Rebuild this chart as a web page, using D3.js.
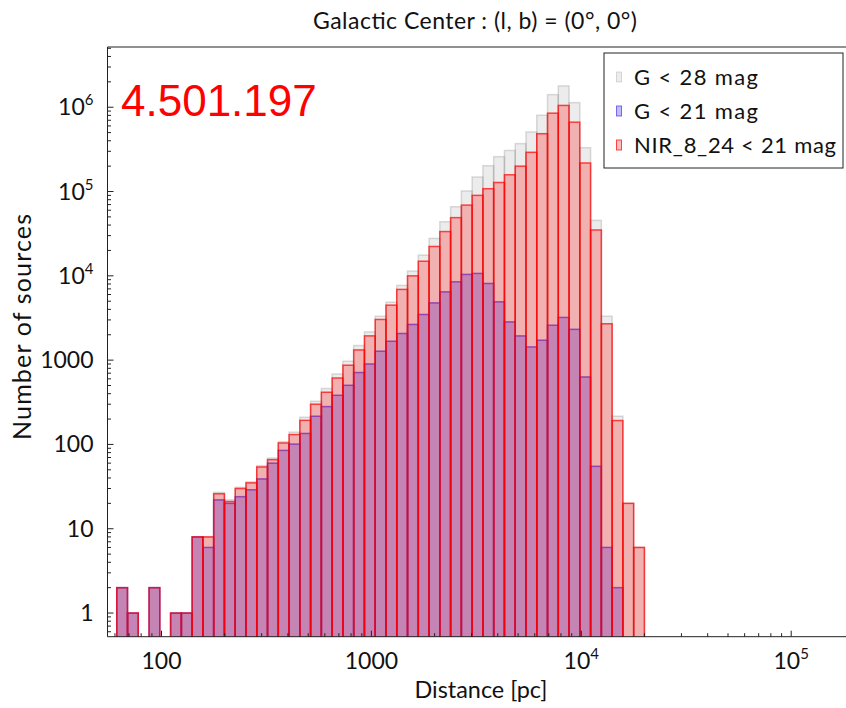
<!DOCTYPE html>
<html>
<head>
<meta charset="utf-8">
<script src="https://cdn.jsdelivr.net/npm/d3@7"></script>
<style>
  html, body { margin: 0; padding: 0; background: #fff; }
  svg { display: block; }
  text { font-family: Lato, "Open Sans", sans-serif; fill: #111; }
</style>
</head>
<body>
<svg id="chart" width="846" height="708"></svg>
<script>
// Histogram binning: logarithmic bins in distance (pc)
const distMinPc = 61.2;
const distMaxPc = 19990;
const nBins = 49;

// Number of sources per distance bin
const countsG28 = [2, 1, 0, 2, 0, 1, 1, 8, 8, 27, 22, 31, 36, 56, 69,
  108, 140, 210, 325, 461, 685, 970, 1490, 2165, 3320, 4870,
  7700, 11400, 17600, 27800, 43800, 66000, 101500, 148700, 202500, 259000,
  307000, 370000, 509000, 803000, 1411000, 1791000, 1133000, 331000, 45500,
  3320, 216, 20, 6];
const countsG21 = [2, 1, 0, 2, 0, 1, 1, 8, 6, 22, 20, 24, 29, 39, 60,
  85, 101, 135, 216, 281, 383, 503, 713, 901, 1277, 1677,
  2071, 2650, 3480, 4780, 6460, 8500, 10390, 10680, 8120, 4920,
  2845, 1940, 1436, 1723, 2597, 3211, 2320, 632, 55,
  6, 2, 0, 0];
const countsNIR = [2, 1, 0, 2, 0, 1, 1, 8, 8, 26, 21, 30, 35, 54, 66,
  104, 131, 193, 300, 416, 614, 870, 1322, 1940, 3036, 4490,
  6900, 10000, 14900, 22300, 33500, 49000, 69000, 90000, 108000, 128000,
  158000, 200000, 292000, 485000, 850000, 1050008, 665000, 218000, 35000,
  2700, 192, 20, 6];

const seriesNames = ["G < 28 mag", "G < 21 mag", "NIR_8_24 < 21 mag"];
const xTickValues = [100, 1000, 1e4, 1e5];
const xTickLabels = [["100", ""], ["1000", ""], ["10", "4"], ["10", "5"]];
const yTickValues = [1, 10, 100, 1000, 1e4, 1e5, 1e6];
const yTickLabels = [["1", ""], ["10", ""], ["100", ""], ["1000", ""], ["10", "4"], ["10", "5"], ["10", "6"]];
const totalLabel = "4.501.197";
const titleText = "Galactic Center :  (l, b) = (0°, 0°)";

const styles = [
  { fill: "rgba(128,128,128,0.15)", stroke: "rgba(128,128,128,0.28)" },
  { fill: "rgba(0,0,255,0.25)", stroke: "rgba(40,0,220,0.55)" },
  { fill: "rgba(255,0,0,0.25)", stroke: "rgba(255,0,0,0.7)" }
];

const svg = d3.select("#chart");
const plot = { left: 107.5, right: 849, top: 47, bottom: 636.7 };

const x = d3.scaleLog()
  .domain([Math.pow(10, 1.7427), Math.pow(10, 5.2754)])
  .range([plot.left, plot.right]);
const y = d3.scaleLog()
  .domain([0.524, 5.18e6])
  .range([plot.bottom, plot.top]);

const lo = Math.log10(distMinPc), hi = Math.log10(distMaxPc);
const edges = d3.range(nBins + 1).map(i => Math.pow(10, lo + i * (hi - lo) / nBins));

svg.append("defs").append("clipPath").attr("id", "plotClip")
  .append("rect")
  .attr("x", plot.left).attr("y", plot.top)
  .attr("width", plot.right - plot.left).attr("height", plot.bottom - plot.top);

const barsG = svg.append("g").attr("clip-path", "url(#plotClip)");

[countsG28, countsG21, countsNIR].forEach((counts, s) => {
  const data = counts.map((v, i) => ({ v, x0: edges[i], x1: edges[i + 1] })).filter(d => d.v > 0);
  barsG.append("g")
    .selectAll("rect")
    .data(data)
    .join("rect")
    .attr("x", d => x(d.x0))
    .attr("width", d => x(d.x1) - x(d.x0))
    .attr("y", d => y(d.v))
    .attr("height", d => y.range()[0] + 2 - y(d.v))
    .attr("fill", styles[s].fill)
    .attr("stroke", styles[s].stroke)
    .attr("stroke-width", 1.5);
});

// Frame
const frame = svg.append("g").attr("stroke", "#222").attr("stroke-width", 1).attr("fill", "none");
frame.append("line").attr("x1", plot.left).attr("x2", plot.left).attr("y1", plot.top).attr("y2", plot.bottom);
frame.append("line").attr("x1", plot.left).attr("x2", plot.right).attr("y1", plot.bottom).attr("y2", plot.bottom);
frame.append("line").attr("x1", plot.left).attr("x2", plot.right).attr("y1", plot.top).attr("y2", plot.top);
frame.append("line").attr("x1", plot.right).attr("x2", plot.right).attr("y1", plot.top).attr("y2", plot.bottom);

// Inward ticks
const [xd0, xd1] = x.domain();
const xMinor = [];
for (let e = 1; e <= 5; e++) for (let m = 1; m < 10; m++) {
  const v = m * Math.pow(10, e);
  if (v >= xd0 && v <= xd1) xMinor.push({ v, major: m === 1 });
}
const ticks = svg.append("g").attr("stroke", "#222").attr("stroke-width", 1);
ticks.selectAll(".xt").data(xMinor).join("line")
  .attr("x1", d => x(d.v)).attr("x2", d => x(d.v))
  .attr("y1", plot.bottom).attr("y2", d => plot.bottom - (d.major ? 6 : 3.5));

const [yd0, yd1] = y.domain();
const yMinor = [];
for (let e = -1; e <= 6; e++) for (let m = 1; m < 10; m++) {
  const v = m * Math.pow(10, e);
  if (v >= yd0 && v <= yd1) yMinor.push({ v, major: m === 1 });
}
ticks.selectAll(".yt").data(yMinor).join("line")
  .attr("y1", d => y(d.v)).attr("y2", d => y(d.v))
  .attr("x1", plot.left).attr("x2", d => plot.left + (d.major ? 6 : 3.5));

// Tick labels
const fs = 23;
const supFs = 15;
const xl = svg.append("g").selectAll("text").data(xTickValues).join("text")
  .attr("x", d => x(d)).attr("y", plot.bottom + 32)
  .attr("text-anchor", "middle").attr("font-size", fs);
xl.each(function (d, i) {
  const t = d3.select(this);
  t.append("tspan").text(xTickLabels[i][0]);
  if (xTickLabels[i][1]) t.append("tspan").attr("dy", -10).attr("font-size", supFs).text(xTickLabels[i][1]);
});

const yl = svg.append("g").selectAll("text").data(yTickValues).join("text")
  .attr("x", plot.left - 14).attr("y", d => y(d) + 8)
  .attr("text-anchor", "end").attr("font-size", fs);
yl.each(function (d, i) {
  const t = d3.select(this);
  t.append("tspan").text(yTickLabels[i][0]);
  if (yTickLabels[i][1]) t.append("tspan").attr("dy", -10).attr("font-size", supFs).text(yTickLabels[i][1]);
});

// Axis titles
svg.append("text").attr("x", 481).attr("y", 698)
  .attr("text-anchor", "middle").attr("font-size", 23)
  .attr("textLength", 133).attr("lengthAdjust", "spacingAndGlyphs").text("Distance [pc]");
svg.append("text").attr("transform", `translate(31,327) rotate(-90)`)
  .attr("text-anchor", "middle").attr("font-size", 25)
  .attr("textLength", 226).attr("lengthAdjust", "spacing").text("Number of sources");
svg.append("text").attr("x", 475).attr("y", 29)
  .attr("text-anchor", "middle").attr("font-size", 23)
  .attr("textLength", 324).attr("lengthAdjust", "spacing").text(titleText);

// Total count
svg.append("text").attr("x", 121).attr("y", 116)
  .style("font-family", "'Liberation Sans', Arial, sans-serif")
  .style("fill", "#ff0000").attr("font-size", 44).text(totalLabel);

// Legend
const lg = svg.append("g");
lg.append("rect").attr("x", 604).attr("y", 53).attr("width", 239).attr("height", 115)
  .attr("fill", "#fff").attr("stroke", "#222").attr("stroke-width", 1);
const legendY = [77, 111, 145];
const legendW = [124, 124, 202];
seriesNames.forEach((name, i) => {
  lg.append("rect").attr("x", 616.5).attr("y", legendY[i] - 5).attr("width", 5).attr("height", 10)
    .attr("fill", styles[i].fill).attr("stroke", styles[i].stroke).attr("stroke-width", 1);
  lg.append("text").attr("x", 634).attr("y", legendY[i] + 8).attr("font-size", 22)
    .attr("textLength", legendW[i]).attr("lengthAdjust", "spacing").text(name);
});
</script>
</body>
</html>
